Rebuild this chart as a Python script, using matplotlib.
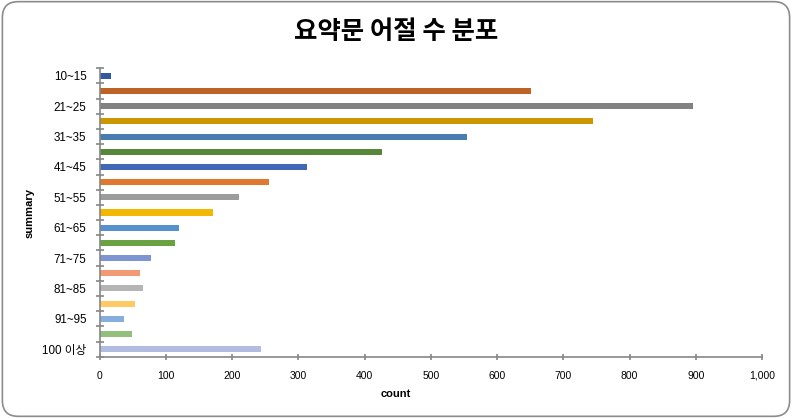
import matplotlib
matplotlib.use("Agg")
import matplotlib.pyplot as plt
from matplotlib.patches import FancyBboxPatch
import numpy as np

plt.rcParams['font.family'] = ['Liberation Sans', 'Noto Sans CJK KR']

# data
categories = ['10~15', '16~20', '21~25', '26~30', '31~35', '36~40', '41~45', '46~50',
              '51~55', '56~60', '61~65', '66~70', '71~75', '76~80', '81~85', '86~90',
              '91~95', '96~100', '100 이상']
counts = [17, 651, 896, 745, 555, 426, 313, 256, 210, 171, 120, 114, 78, 61, 66, 54, 37, 48, 243]
colors = ['#335A9E', '#BE6328', '#828282', '#CC9700', '#497CB0', '#56873A',
          '#3F69B6', '#E0782F', '#9C9C9C', '#F2B700', '#5592CC', '#68A242',
          '#7D95D1', '#F19A73', '#B5B5B5', '#FFCA66', '#86AEDD', '#93BE7B', '#B1BCE0']
xticks = np.arange(0, 1001, 100)

fig = plt.figure(figsize=(7.92, 4.18), dpi=100)
ax = fig.add_axes([0.1259, 0.1467, 0.9621 - 0.1259, 0.8366 - 0.1467])

y = np.arange(len(categories))
ax.barh(y, counts, height=0.4, color=colors)
ax.set_ylim(len(categories) - 0.5, -0.5)
ax.set_xlim(0, 1000)

axcol = '#868686'
for s in ['top', 'right']:
    ax.spines[s].set_visible(False)
for s in ['left', 'bottom']:
    ax.spines[s].set_color(axcol)
    ax.spines[s].set_linewidth(1.2)

# y ticks at category borders, labels on every other category
ax.set_yticks(np.arange(-0.5, len(categories) + 0.5, 1))
ax.set_yticklabels([])
ax.set_yticks(y[::2], minor=True)
ax.set_yticklabels(categories[::2], minor=True, fontsize=8.4)
ax.tick_params(axis='y', which='major', direction='inout', length=6, color=axcol, width=1.2)
ax.tick_params(axis='y', which='minor', length=0, pad=9.5)

ax.set_xticks(xticks)
ax.set_xticklabels([f'{v:,}' for v in xticks], fontsize=7.5)
ax.tick_params(axis='x', direction='inout', length=5, color=axcol, width=1.2, pad=7.5)

ax.set_xlabel('count', fontsize=8, fontweight='bold')
ax.xaxis.set_label_coords(0.5, 1 - 394 / 418, transform=fig.transFigure)
ax.xaxis.label.set_va('center')
fig.text(30 / 792, 0.4916, 'summary', rotation=90, ha='center', va='center',
         fontsize=8, fontweight='bold')

fig.text(0.5, 0.924, '요약문 어절 수 분포', ha='center', va='center', fontsize=18.3,
         fontweight='bold', family='Noto Sans CJK KR')

border = FancyBboxPatch((0.003, 0.004), 0.994, 0.992, boxstyle='round,pad=0,rounding_size=0.02',
                        transform=fig.transFigure, fill=False, edgecolor='#8C8C8C', linewidth=1.2,
                        mutation_aspect=792 / 418)
fig.patches.append(border)

fig.savefig('out.png', dpi=100)
